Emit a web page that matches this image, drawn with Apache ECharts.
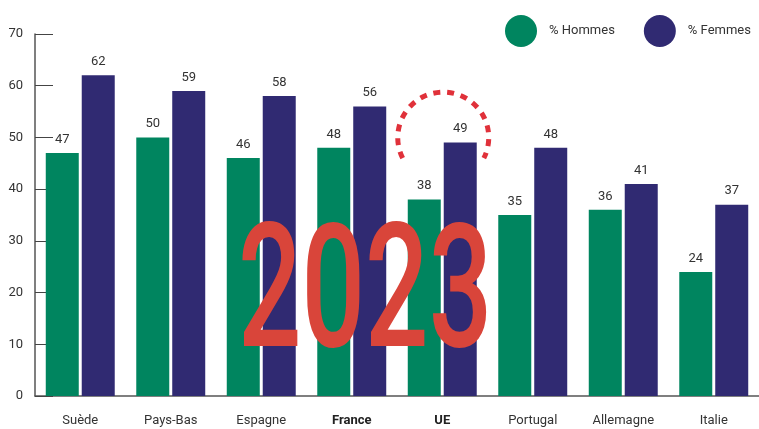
<!DOCTYPE html>
<html><head><meta charset="utf-8">
<script src="https://cdn.jsdelivr.net/npm/echarts@6/dist/echarts.min.js"></script>
<style>html,body{margin:0;padding:0;background:#fff}#c{width:759px;height:429px}</style>
</head><body><div id="c"></div>
<script>
const categories = ['Suède','Pays-Bas','Espagne','France','UE','Portugal','Allemagne','Italie'];
const boldCategories = ['France','UE'];
const hommes = [47,50,46,48,38,35,36,24];
const femmes = [62,59,58,56,49,48,41,37];
const seriesNames = ['% Hommes','% Femmes'];
const yTicks = [0,10,20,30,40,50,60,70];
const yearLabel = '2023';
const highlightCategory = 'UE';

const FONT = 'Roboto, "Liberation Sans Narrow", sans-serif';
const chart = echarts.init(document.getElementById('c'), null, {renderer:'canvas'});
const labelStyle = {show:true, position:'top', distance:7, color:'#333', fontFamily:FONT, fontSize:13};
chart.setOption({
  animation:false,
  legend:{
    data:seriesNames, top:10, left:500, icon:'circle', itemWidth:32, itemHeight:32, itemGap:29,
    textStyle:{fontFamily:FONT, fontSize:13, color:'#333', padding:[0,0,0,7]}
  },
  grid:{left:35, top:34, width:728, bottom:33, containLabel:false},
  xAxis:{
    type:'category', data:categories,
    axisLine:{lineStyle:{color:'#555', width:1.5}},
    axisTick:{inside:true, length:6, lineStyle:{color:'#444'}},
    axisLabel:{margin:18, fontFamily:FONT, fontSize:13, color:'#333',
      formatter:v => boldCategories.includes(v) ? '{b|'+v+'}' : v,
      rich:{b:{fontFamily:FONT, fontSize:13, fontWeight:'bold', color:'#222'}}}
  },
  yAxis:{
    type:'value', min:0, max:70, interval:10,
    axisLine:{show:true, lineStyle:{color:'#555', width:1.5}},
    axisTick:{show:true, inside:true, length:18, lineStyle:{color:'#444'}},
    splitLine:{show:false},
    axisLabel:{margin:12, fontFamily:FONT, fontSize:13, color:'#333',
      formatter:v => yTicks.includes(v) ? String(v) : ''}
  },
  series:[
    {name:seriesNames[0], type:'bar', data:hommes, barWidth:33, barGap:'9%', itemStyle:{color:'#00855f'}, label:labelStyle},
    {name:seriesNames[1], type:'bar', data:femmes, barWidth:33, barGap:'9%', itemStyle:{color:'#302a72'}, label:labelStyle}
  ]
});
const hIdx = categories.indexOf(highlightCategory);
const basePt = chart.convertToPixel({xAxisIndex:0, yAxisIndex:0}, [hIdx, 0]);
const topPt = chart.convertToPixel({xAxisIndex:0, yAxisIndex:0}, [hIdx, femmes[hIdx]]);
const arcCx = basePt[0] + 1, arcCy = topPt[1] - 5, arcR = 45.5;
chart.setOption({
  graphic:[
    {type:'text', left:238, top:217, z:100, scaleX:0.65,
      style:{text:yearLabel, fontFamily:FONT, fontWeight:500, fontSize:172, fill:'#d9453a'}},
    {type:'arc', z:100, shape:{cx:arcCx, cy:arcCy, r:arcR, startAngle:Math.PI-0.47, endAngle:2*Math.PI+0.47, clockwise:true},
      style:{stroke:'#e0313a', lineWidth:5, fill:null, lineDash:[7,6.8]}}
  ]
});
</script></body></html>
